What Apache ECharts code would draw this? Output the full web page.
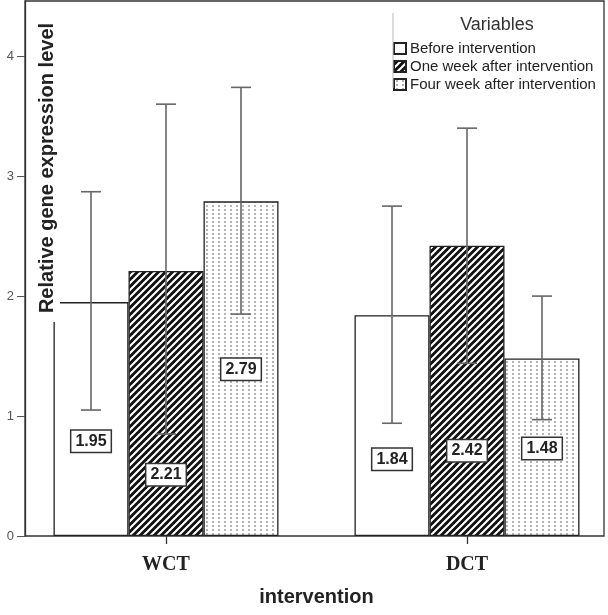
<!DOCTYPE html>
<html><head><meta charset="utf-8">
<script src="https://cdn.jsdelivr.net/npm/echarts@6/dist/echarts.min.js"></script>
<style>html,body{margin:0;padding:0;background:#fff}#c{width:608px;height:615px}</style>
</head><body><div id="c"></div>
<script>
// ---- data ----
const categories = ['WCT', 'DCT'];
const seriesNames = ['Before intervention', 'One week after intervention', 'Four week after intervention'];
const beforeValues = [1.95, 1.84];
const oneWeekValues = [2.21, 2.42];
const fourWeekValues = [2.79, 1.48];
const beforeErrLow = [1.05, 0.94];
const beforeErrHigh = [2.87, 2.75];
const oneWeekErrLow = [0.85, 1.44];
const oneWeekErrHigh = [3.60, 3.40];
const fourWeekErrLow = [1.85, 0.97];
const fourWeekErrHigh = [3.74, 2.00];
const yTickLabels = [0, 1, 2, 3, 4];
const yAxisTitle = 'Relative gene expression level';
const xAxisTitle = 'intervention';
const legendTitle = 'Variables';

// ---- layout (not data) ----
const Y_MAX = 4.46;
const BAR_W = 75;
const CAP = 10;
const labelAnchor = [[0.79, 0.64], [0.51, 0.71], [1.39, 0.73]]; // label centre heights in axis units

function makeHatch() {
  const p = 7, c = document.createElement('canvas');
  c.width = p; c.height = p;
  const g = c.getContext('2d');
  g.fillStyle = '#111'; g.fillRect(0, 0, p, p);
  g.strokeStyle = '#fff'; g.lineWidth = 2.1;
  [0, p, 2 * p].forEach(k => { g.beginPath(); g.moveTo(k + 1, -1); g.lineTo(-1, k + 1); g.stroke(); });
  return c;
}
function makeDots() {
  const c = document.createElement('canvas');
  c.width = 6; c.height = 4;
  const g = c.getContext('2d');
  g.fillStyle = '#fff'; g.fillRect(0, 0, 6, 4);
  g.fillStyle = '#b4b4b4'; g.fillRect(2, 1, 2, 2);
  return c;
}
const fills = ['#ffffff', { image: makeHatch(), repeat: 'repeat' }, { image: makeDots(), repeat: 'repeat' }];
const values = [beforeValues, oneWeekValues, fourWeekValues];
const lows = [beforeErrLow, oneWeekErrLow, fourWeekErrLow];
const highs = [beforeErrHigh, oneWeekErrHigh, fourWeekErrHigh];

const errData = [], labelData = [];
values.forEach((arr, si) => arr.forEach((v, ci) => {
  errData.push([ci, lows[si][ci], highs[si][ci], si]);
  labelData.push([ci, labelAnchor[si][ci], v, si]);
}));

const barSeries = values.map((arr, si) => ({
  name: seriesNames[si], type: 'bar', xAxisIndex: 1, yAxisIndex: 1,
  data: arr, barWidth: BAR_W, barGap: '0%', clip: false, z: 2,
  itemStyle: { color: fills[si], borderColor: '#222', borderWidth: 1.3 },
  emphasis: { disabled: true }
}));

const chart = echarts.init(document.getElementById('c'), null, { renderer: 'canvas' });
chart.setOption({
  animation: false,
  backgroundColor: '#fff',
  grid: [
    { left: 25, right: 4, top: 1, bottom: 79, show: true, borderColor: '#333', borderWidth: 1.3, backgroundColor: 'transparent' },
    { left: 166, right: 141, top: 1, bottom: 79 }
  ],
  xAxis: [
    { gridIndex: 0, type: 'value', min: 0, max: 1, show: false },
    {
      gridIndex: 1, type: 'category', data: categories, boundaryGap: false,
      axisLine: { show: false },
      axisTick: { show: true, length: 8, lineStyle: { color: '#333', width: 1.3 } },
      axisLabel: { margin: 19, fontFamily: 'Liberation Serif', fontWeight: 'bold', fontSize: 20, color: '#222' },
      name: xAxisTitle, nameLocation: 'middle', nameGap: 51,
      nameTextStyle: { fontFamily: 'Liberation Sans', fontWeight: 'bold', fontSize: 20, color: '#222' }
    }
  ],
  yAxis: [
    {
      gridIndex: 0, type: 'value', min: 0, max: Y_MAX, interval: 1,
      axisLine: { show: true, lineStyle: { color: '#333', width: 1.3 } },
      axisTick: { show: true, length: 8, lineStyle: { color: '#555' } },
      axisLabel: {
        showMaxLabel: false, margin: 11, color: '#555', fontSize: 13, fontFamily: 'Liberation Sans',
        formatter: v => (yTickLabels.indexOf(v) >= 0 ? String(v) : '')
      },
      splitLine: { show: false }
    },
    { gridIndex: 1, type: 'value', min: 0, max: Y_MAX, show: false }
  ],
  legend: {
    orient: 'vertical', left: 388, top: 36, itemWidth: 12, itemHeight: 11, itemGap: 3,
    selectedMode: false, icon: 'rect', data: seriesNames,
    textStyle: { fontFamily: 'Liberation Sans', fontSize: 15, color: '#222', padding: [0, 0, 0, -1] }
  },
  graphic: [
    { type: 'line', z: 50, shape: { x1: 393, y1: 13, x2: 393, y2: 88 }, style: { stroke: '#bbb', lineWidth: 1 } },
    { type: 'text', z: 50, x: 497, y: 25, style: { text: legendTitle, font: '18px "Liberation Sans"', fill: '#333', align: 'center', verticalAlign: 'middle' } },
    { type: 'text', z: 100, x: 47, y: 168, rotation: Math.PI / 2,
      style: { text: yAxisTitle, font: 'bold 20px "Liberation Sans"', fill: '#222', align: 'center', verticalAlign: 'middle',
        backgroundColor: '#fff', padding: [3, 9, 3, 9] } }
  ],
  series: barSeries.concat([
    {
      type: 'custom', xAxisIndex: 1, yAxisIndex: 1, z: 3, clip: false, data: errData, silent: true,
      renderItem: (params, api) => {
        const ci = api.value(0), si = api.value(3);
        const pLo = api.coord([ci, api.value(1)]), pHi = api.coord([ci, api.value(2)]);
        const x = pLo[0] + (si - 1) * BAR_W;
        const st = { stroke: '#666', lineWidth: 1.6 };
        return { type: 'group', children: [
          { type: 'line', shape: { x1: x, y1: pLo[1], x2: x, y2: pHi[1] }, style: st },
          { type: 'line', shape: { x1: x - CAP, y1: pHi[1], x2: x + CAP, y2: pHi[1] }, style: st },
          { type: 'line', shape: { x1: x - CAP, y1: pLo[1], x2: x + CAP, y2: pLo[1] }, style: st }
        ] };
      }
    },
    {
      type: 'custom', xAxisIndex: 1, yAxisIndex: 1, z: 4, clip: false, data: labelData, silent: true,
      renderItem: (params, api) => {
        const ci = api.value(0), si = api.value(3);
        const p = api.coord([ci, api.value(1)]);
        return { type: 'text', x: p[0] + (si - 1) * BAR_W, y: p[1],
          style: { text: api.value(2).toFixed(2), font: 'bold 16px "Liberation Sans"', fill: '#222', align: 'center', verticalAlign: 'middle',
            backgroundColor: '#fff', borderColor: '#333', borderWidth: 1.5, padding: [3, 4, 2, 4] } };
      }
    }
  ])
});
</script></body></html>
